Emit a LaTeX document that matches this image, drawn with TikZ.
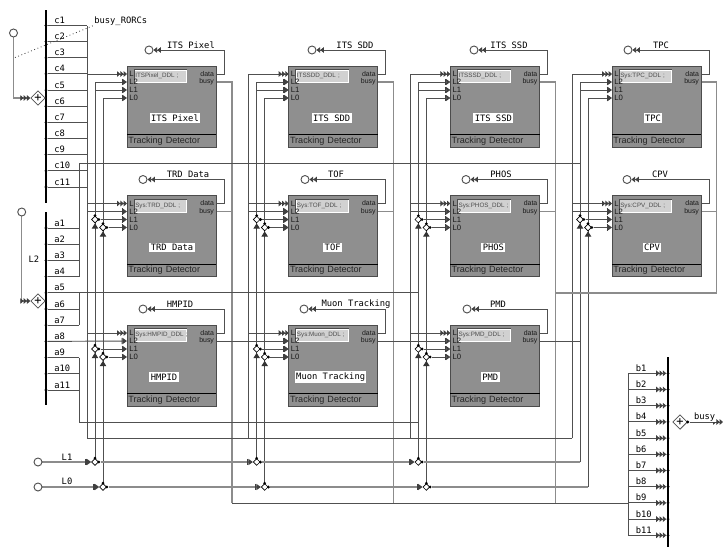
\documentclass[tikz,border=0pt]{standalone}
\usepackage{fontspec}
\usetikzlibrary{arrows.meta,shapes.geometric}
\newfontfamily\wirefont{DejaVu Sans Mono}
\newfontfamily\blockfont{Liberation Sans}
\pgfdeclarelayer{wires}
\pgfsetlayers{wires,main}
\definecolor{wiredark}{HTML}{505050}
\definecolor{wirelight}{HTML}{8C8C8C}
\definecolor{blockgray}{HTML}{8F8F8F}
\tikzset{
    wire/.style={draw=wiredark,line width=0.7pt},
    lightwire/.style={draw=wirelight,line width=0.9pt},
    onetip/.style={-{Bar[black!75,width=4.6pt,length=0.7pt]Triangle[black!75,length=3.4pt,width=4.6pt]}},
    twotips/.style={-{Triangle[black!75,length=2.8pt,width=4.2pt]Triangle[black!75,length=2.8pt,width=4.2pt]}},
    threetips/.style={-{Triangle[black!75,length=2.5pt,width=4.2pt]Triangle[black!75,length=2.5pt,width=4.2pt]Triangle[black!75,length=2.5pt,width=4.2pt]}},
    uptip/.style={draw=black!75,line width=0.7pt,-{Triangle[black!80,length=4pt,width=4.8pt]}},
    busline/.style={draw=black,line width=1.3pt},
    junct/.style={circle,fill=black,inner sep=0pt,minimum size=2.3pt},
    openend/.style={circle,draw=wiredark,fill=white,line width=0.7pt,inner sep=0pt,minimum size=6pt},
    splice/.style={diamond,draw=black,fill=white,line width=0.5pt,inner sep=0pt,minimum size=5.2pt},
    sumnode/.style={diamond,draw=wiredark,fill=white,line width=0.6pt,inner sep=0pt,minimum size=11pt,font=\wirefont\fontsize{9}{9}\selectfont},
    wiretext/.style={inner sep=0pt,font=\wirefont\fontsize{6.6}{7}\selectfont},
    tagtext/.style={wiretext,fill=white,inner sep=0.6pt},
    blockbox/.style={rectangle,anchor=north west,draw=black!70,fill=blockgray,line width=0.7pt,outer sep=0pt,
        minimum width=66.75pt,minimum height=60.75pt},
    blockfoot/.style={anchor=south west,inner xsep=0.8pt,inner ysep=0.6pt,text width=65pt,minimum height=9pt,
        font=\blockfont\fontsize{6.8}{7}\selectfont,text=black!85},
    ddlbox/.style={rectangle,anchor=north west,draw=white,fill=black!18,line width=0.7pt,inner xsep=0.6pt,inner ysep=0pt,
        text width=38pt,minimum height=9.5pt,font=\blockfont\fontsize{4.7}{5}\selectfont,text=black!70},
    portin/.style={anchor=west,inner xsep=1.5pt,inner ysep=0pt,font=\blockfont\fontsize{5.8}{6}\selectfont,text=black!90},
    portout/.style={anchor=east,inner xsep=0.6pt,inner ysep=0pt,font=\blockfont\fontsize{5.2}{6}\selectfont,text=black!90},
}

\begin{document}
\begin{tikzpicture}[x=0.75pt,y=-0.75pt]
    \useasboundingbox (0,0) rectangle (723,547);
    % detector blocks
    \foreach \r/\c/\tag/\ddl/\tagx/\cirx/\titlex in {
        1/1/ITS Pixel/ITSPixel\_DDL ;/191/149/48,
        1/2/ITS SDD/ITSSDD\_DDL ;/355/312/43,
        1/3/ITS SSD/ITSSSD\_DDL ;/509/474/43,
        1/4/TPC/Sys:TPC\_DDL ;/661/628/41,
        2/1/TRD Data/Sys:TRD\_DDL ;/188/143/45,
        2/2/TOF/Sys:TOF\_DDL ;/336/305/44,
        2/3/PHOS/Sys:PHOS\_DDL ;/501/466/43,
        2/4/CPV/Sys:CPV\_DDL ;/660/627/40,
        3/1/HMPID/Sys:HMPID\_DDL ;/180/143/37,
        3/2/Muon Tracking/Sys:Muon\_DDL ;/356/304/42,
        3/3/PMD/Sys:PMD\_DDL ;/498/467/40}{
        \pgfmathsetmacro\blkx{127+161.67*(\c-1)}
        \pgfmathsetmacro\blky{66+129.5*(\r-1)}
        \node[blockbox] (det\r\c) at (\blkx,\blky) {};
        \node[blockfoot] (foot\r\c) at (det\r\c.south west) {Tracking Detector};
        \draw[black,line width=0.6pt] (foot\r\c.north west)--(foot\r\c.north east);
        \node[portin] (det\r\c-l3) at (\blkx,\blky+8) {L};
        \node[ddlbox] (ddl\r\c) at (\blkx+7,\blky+3.5) {\mbox{\ddl}};
        \draw[black!70,line width=0.6pt] (ddl\r\c.south west)|-(ddl\r\c.north east);
        \node[portin] (det\r\c-l2) at (\blkx,\blky+16) {L2};
        \node[portin] (det\r\c-l1) at (\blkx,\blky+24) {L1};
        \node[portin] (det\r\c-l0) at (\blkx,\blky+32) {L0};
        \node[portout] (det\r\c-data) at (\blkx+88,\blky+8) {data};
        \node[portout] (det\r\c-busy) at (\blkx+88,\blky+16) {busy};
        \node[tagtext,inner sep=1pt] (title\r\c) at (\blkx+\titlex,\blky+52) {\tag};
        \node[openend] (cir\r\c) at (\cirx,\blky-16) {};
        \node[tagtext] (tag\r\c) at (\tagx,\blky-21) {\tag};
        \coordinate (bend\r\c) at (\blkx+97,\blky+8);
        \begin{pgfonlayer}{wires}
            \draw[wire,twotips] (det\r\c-data.east)--(bend\r\c) |- (cir\r\c.east);
        \end{pgfonlayer}
    }
    % rails of each column
    \foreach \c in {1,2,3,4}{
        \pgfmathsetmacro\blkx{127+161.67*(\c-1)}
        \coordinate (railA\c) at (\blkx-40,438);
        \coordinate (railB\c) at (\blkx-32,462);
        \coordinate (railC\c) at (\blkx-24,487);
        \coordinate (busyrail\c) at (\blkx+105,503);
        \begin{pgfonlayer}{wires}
            \draw[wire,threetips] (railA\c) |- (det1\c-l3.west);
            \draw[wire,threetips] (railA\c) |- (det2\c-l3.west);
            \draw[wire,onetip] (railA\c) |- (det2\c-l2.west);
            \draw[wire,onetip] (railB\c) |- (det1\c-l2.west);
            \draw[wire,onetip] (railB\c) |- (det1\c-l1.west);
            \draw[wire,onetip] (railC\c) |- (det1\c-l0.west);
        \end{pgfonlayer}
    }
    \begin{pgfonlayer}{wires}
        \foreach \c in {1,2,3}{
            \draw[wire,threetips] (railA\c) |- (det3\c-l3.west);
            \draw[lightwire] (det1\c-busy.east) -| (busyrail\c);
            \draw[lightwire] (det2\c-busy.east)--(busyrail\c |- det2\c-busy.east);
        }
    \end{pgfonlayer}
    % splices next to the ports
    \foreach \r/\c in {2/1,2/2,2/3,2/4,3/1,3/2,3/3}{
        \node[splice] (sa\r\c) at (railB\c |- det\r\c-l1) {};
        \node[splice] (sd\r\c) at (railC\c |- det\r\c-l0) {};
        \node[junct] (sax\r\c) at (sa\r\c.east) {};
        \node[junct] (sdx\r\c) at (sd\r\c.east) {};
        \node[junct] (sat\r\c) at (sa\r\c.north) {};
        \node[junct] (sdt\r\c) at (sd\r\c.north) {};
        \draw[uptip] ([yshift=-5pt]sa\r\c.south)--(sa\r\c.south);
        \draw[uptip] ([yshift=-5pt]sd\r\c.south)--(sd\r\c.south);
        \begin{pgfonlayer}{wires}
            \draw[wire,onetip] (sax\r\c)--(det\r\c-l1.west);
            \draw[wire,onetip] (sdx\r\c)--(det\r\c-l0.west);
        \end{pgfonlayer}
    }
    % splices on L1 and L0
    \foreach \c in {1,2,3}{
        \node[splice] (sb\c) at (railB\c) {};
        \node[splice] (sc\c) at (railC\c) {};
        \node[junct] (sbx\c) at (sb\c.east) {};
        \node[junct] (scx\c) at (sc\c.east) {};
        \node[junct] (sbt\c) at (sb\c.north) {};
        \node[junct] (sct\c) at (sc\c.north) {};
    }
    \node[openend] (l1in) at (38,462) {};
    \node[openend] (l0in) at (38,487) {};
    \node[wiretext,anchor=base] (l1lab) at (67,460) {L1};
    \node[wiretext,anchor=base] (l0lab) at (67,484.5) {L0};
    \begin{pgfonlayer}{wires}
        \draw[lightwire,onetip] (l1in.east)--(sb1.west);
        \draw[lightwire,onetip] (sbx1)--(sb2.west);
        \draw[lightwire,onetip] (sbx2)--(sb3.west);
        \draw[lightwire] (sbx3)--(railB4);
        \draw[lightwire,onetip] (l0in.east)--(sc1.west);
        \draw[lightwire,onetip] (scx1)--(sc2.west);
        \draw[lightwire,onetip] (scx2)--(sc3.west);
        \draw[lightwire] (scx3)--(railC4);
        \draw[wire] (railA1)--(railA4);
    \end{pgfonlayer}
    % left buses
    \coordinate (ctop) at (46,10);
    \coordinate (cend) at (46,203);
    \coordinate (atop) at (46,212);
    \coordinate (aend) at (46,405);
    \coordinate (brkA) at (79,163);
    \coordinate (brkB) at (79,422);
    \draw[busline] (ctop)--(cend);
    \draw[busline] (atop)--(aend);
    \foreach \i in {1,...,11}{
        \pgfmathsetmacro\tickc{25.5+16.15*(\i-1)}
        \pgfmathsetmacro\ticka{228+16.2*(\i-1)}
        \node[junct] (c\i) at (46,\tickc) {};
        \node[junct] (a\i) at (46,\ticka) {};
        \node[wiretext,anchor=base west] (clab\i) at (54,\tickc-2) {c\i};
        \node[wiretext,anchor=base west] (alab\i) at (54,\ticka-2) {a\i};
        \begin{pgfonlayer}{wires}
            \draw[wire] (c\i)--(railA1 |- c\i);
        \end{pgfonlayer}
    }
    \begin{pgfonlayer}{wires}
        \foreach \i in {1,2,3,4,6,7,9,10,11}{
            \draw[wire] (a\i)--(brkA |- a\i);
        }
        \draw[wire] (railA1)--(railA1 |- c1);
        \draw[wire] (brkA)--(brkA |- a4);
        \draw[wire] (brkA |- a5)--(brkA |- a7);
        \draw[wire] (brkA |- a9)--(brkB);
        \draw[wire] (brkA)--(railB4 |- brkA);
        \draw[wire] (brkB)--(railB3 |- brkB);
        \draw[wire] (a5)--(railB3 |- a5);
        \draw[wire,onetip] (a8)--(det31-l2.west);
        \draw[wire,onetip] (det31-busy.east)--(det32-l2.west);
        \draw[wire,onetip] (det32-busy.east)--(det33-l2.west);
        \draw[wire] (det33-busy.east)--(railB4 |- det33-busy.east);
    \end{pgfonlayer}
    \node[wiretext,anchor=base] (l2lab) at (34,262) {L2};
    \node[wiretext,anchor=base west] (rorc) at (94,23) {busy\_RORCs};
    \node[openend] (cin) at (13.5,33) {};
    \node[openend] (ain) at (21.7,212) {};
    \node[sumnode] (csum) at (38,98) {+};
    \node[sumnode] (asum) at (38,301) {+};
    \coordinate (rorcstart) at (15,57.5);
    \begin{pgfonlayer}{wires}
        \draw[lightwire,threetips] (cin.south) |- (csum.west);
        \draw[lightwire,threetips] (ain.south) |- (asum.west);
        \draw[black!80,dotted,line width=0.6pt] (rorcstart)--(rorc.south west);
    \end{pgfonlayer}
    % busy collection
    \coordinate (btop) at (668,357);
    \coordinate (bend) at (668,547);
    \coordinate (bbar) at (628,373.3);
    \coordinate (busyjoin) at (716.5,293);
    \coordinate (busyend) at (723,422);
    \draw[busline] (btop)--(bend);
    \foreach \i in {1,...,11}{
        \pgfmathsetmacro\tickb{373.3+16.2*(\i-1)}
        \node[junct] (b\i) at (668,\tickb) {};
        \node[wiretext,anchor=base west] (blab\i) at (635.5,\tickb-2) {b\i};
        \begin{pgfonlayer}{wires}
            \draw[wire,threetips] (bbar |- b\i)--(b\i);
        \end{pgfonlayer}
    }
    \node[sumnode] (bsum) at (680,422) {+};
    \node[junct] (bsumx) at (bsum.east) {};
    \node[tagtext,anchor=base west] (busylab) at (693,419.5) {busy};
    \begin{pgfonlayer}{wires}
        \draw[wire] (bbar |- b1)--(bbar |- b11);
        \draw[wire] (busyrail1)--(bbar |- busyrail1);
        \draw[lightwire] (det14-busy.east) -| (busyjoin)--(busyrail3 |- busyjoin);
        \draw[lightwire] (det24-busy.east) -| (busyjoin);
        \draw[wire,threetips] (bsumx)--(busyend);
    \end{pgfonlayer}
\end{tikzpicture}
\end{document}
